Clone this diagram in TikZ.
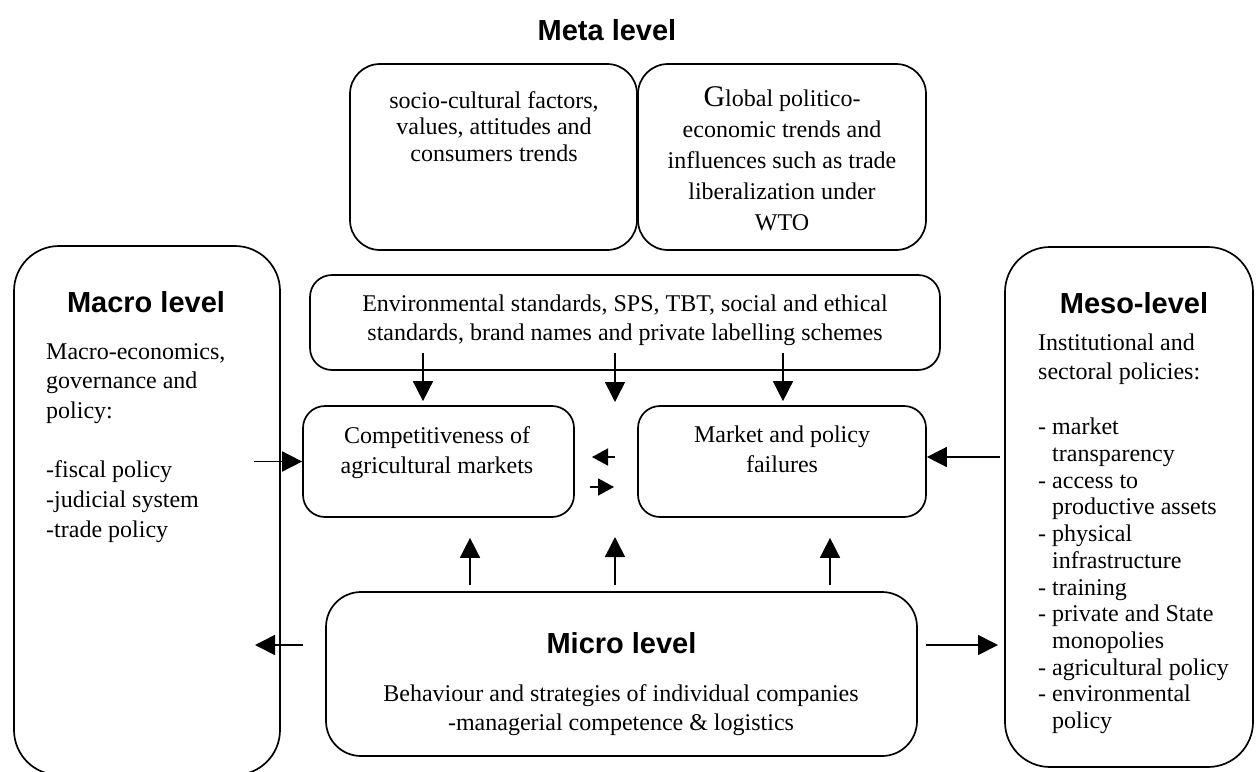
\documentclass[tikz,border=0pt]{standalone}
\usepackage{fontspec}
\setmainfont{Liberation Serif}
\newfontfamily\hdfont{Liberation Sans}
\usetikzlibrary{arrows.meta,calc}
\begin{document}
\begin{tikzpicture}[x=1pt,y=-1pt,
  box/.style={draw, line width=1.7pt, rounded corners=#1, inner sep=0pt},
  box/.default=22pt,
  txt/.style={inner sep=0pt, align=center, anchor=north, font=\fontsize{24}{#1}\selectfont},
  txt/.default=29,
  ltxt/.style={inner sep=0pt, align=left, anchor=north west, font=\fontsize{24}{#1}\selectfont},
  hd/.style={inner sep=0pt, anchor=north, font=\hdfont\bfseries\fontsize{29}{34}\selectfont},
  arr/.style={line width=1.6pt, -{Triangle[length=20pt,width=20pt]}},
  sarr/.style={line width=1.6pt, -{Triangle[length=16pt,width=17pt]}}]
\clip (0,0) rectangle (1258,771);

% title
\node[hd] (meta) at (607,19) {Meta level};

% boxes
\node[box=30pt, minimum width=287pt, minimum height=186pt] (socio) at (493.5,157) {};
\node[box=30pt, minimum width=288pt, minimum height=186pt] (global) at (782,157) {};
\node[box=45pt, minimum width=266pt, minimum height=529pt] (macro) at (147,510.5) {};
\node[box=45pt, minimum width=248pt, minimum height=520pt] (meso) at (1129,507) {};
\node[box, minimum width=630pt, minimum height=95pt] (env) at (625,322.5) {};
\node[box, minimum width=271pt, minimum height=111pt] (comp) at (438.5,461.5) {};
\node[box, minimum width=288pt, minimum height=111pt] (market) at (782,461.5) {};
\node[box=35pt, minimum width=591pt, minimum height=164pt] (micro) at (621.5,674) {};

% texts
\node[txt=26.5] (sociot) at (494,91) {socio-cultural factors,\\values, attitudes and\\consumers trends};
\node[txt=31] (globalt) at (782,86) {{\fontsize{30}{31}\selectfont G}lobal politico-\\economic trends and\\influences such as trade\\liberalization under\\WTO};
\node[txt=29] (envt) at (625,295) {Environmental standards, SPS, TBT, social and ethical\\standards, brand names and private labelling schemes};
\node[txt=30] (compt) at (437,426) {Competitiveness of\\agricultural markets};
\node[txt=30] (markett) at (782,426) {Market and policy\\failures};
\node[hd] (microh) at (621.5,632.5) {Micro level};
\node[txt=29] (microt) at (621,684) {Behaviour and strategies of individual companies\\-managerial competence \& logistics};
\node[hd] (macroh) at (146,291.5) {Macro level};
\node[ltxt=29.7] (macrot) at (46,343) {Macro-economics,\\governance and\\policy:\\[29.7pt]-fiscal policy\\-judicial system\\-trade policy};
\node[hd] (mesoh) at (1134,292.5) {Meso-level};
\node[ltxt=26.7] (mesot) at (1038,334) {Institutional and\\[2.3pt]sectoral policies:\\[28.3pt]- market\\\hphantom{-}\ transparency\\- access to\\\hphantom{-}\ productive assets\\- physical\\\hphantom{-}\ infrastructure\\- training\\- private and State\\\hphantom{-}\ monopolies\\- agricultural policy\\- environmental\\\hphantom{-}\ policy};

% free ends
\coordinate (e1) at (423,353);
\coordinate (e2) at (615,353);
\coordinate (e3) at (783,353);
\coordinate (mid) at (615,402);
\coordinate (mA) at (254,461.5);
\coordinate (mB) at (1000,457);
\coordinate (cl1) at (615,457);
\coordinate (cl2) at (592,457);
\coordinate (cr1) at (590,487);
\coordinate (cr2) at (614,487);
\coordinate (u1) at (470,585);
\coordinate (u2) at (615,585);
\coordinate (u3) at (830,585);
\coordinate (um) at (615,537);
\coordinate (ml) at (303,645);
\coordinate (mlt) at (255,645);
\coordinate (mr) at (926,645);
\coordinate (mrt) at (998,645);

% connectors
\draw[arr] (e1) -- ([yshift=4pt]e1 |- comp.north);
\draw[arr] (e2) -- (mid);
\draw[arr] (e3) -- ([yshift=4pt]e3 |- market.north);
\draw[arr] (mA) -- (comp.west);
\draw[arr] (mB) -- (mB -| market.east);
\draw[sarr] (cl1) -- (cl2);
\draw[sarr] (cr1) -- (cr2);
\draw[arr] (u1) -- ([yshift=-20pt]u1 |- comp.south);
\draw[arr] (u2) -- (um);
\draw[arr] (u3) -- ([yshift=-20pt]u3 |- market.south);
\draw[arr] (ml) -- (mlt);
\draw[arr] (mr) -- (mrt);
\end{tikzpicture}
\end{document}
